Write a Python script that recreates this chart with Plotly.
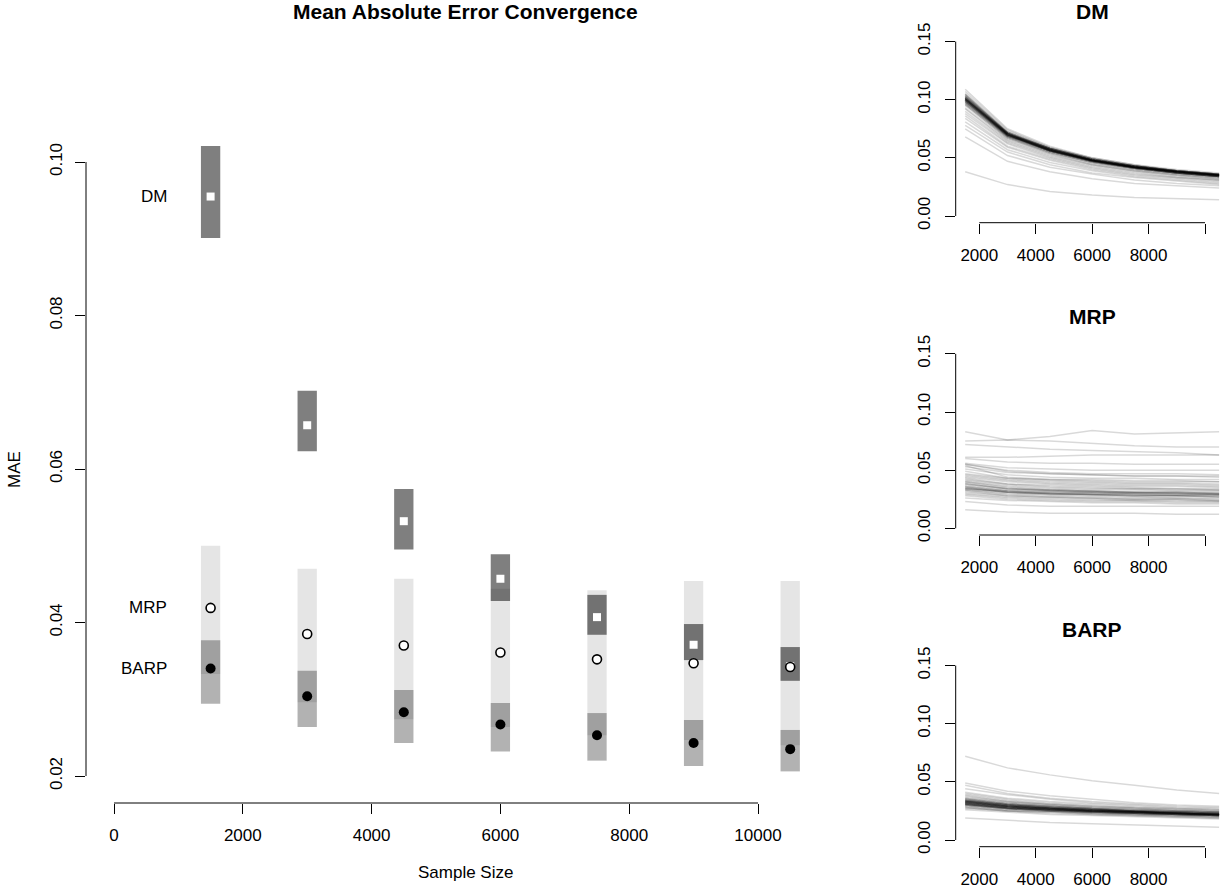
import plotly.graph_objects as go

W, H = 1221, 888
FONT = "Liberation Sans, Arial, Helvetica, sans-serif"

# ---------------- data ----------------
sample_sizes = [1500, 3000, 4500, 6000, 7500, 9000, 10500]

dm_mean = [0.0955, 0.0657, 0.0532, 0.0457, 0.0407, 0.0371, 0.0343]
dm_lo = [0.0901, 0.0623, 0.0495, 0.0428, 0.0384, 0.0351, 0.0324]
dm_hi = [0.1021, 0.0702, 0.0574, 0.0489, 0.0436, 0.0398, 0.0368]

mrp_mean = [0.0419, 0.0385, 0.0370, 0.0361, 0.0352, 0.0347, 0.0342]
mrp_lo = [0.0333, 0.0296, 0.0274, 0.0264, 0.0253, 0.0247, 0.0240]
mrp_hi = [0.0500, 0.0470, 0.0457, 0.0444, 0.0442, 0.0454, 0.0454]

barp_mean = [0.0340, 0.0304, 0.0283, 0.0267, 0.0253, 0.0243, 0.0235]
barp_lo = [0.0294, 0.0264, 0.0243, 0.0232, 0.0220, 0.0213, 0.0206]
barp_hi = [0.0377, 0.0337, 0.0312, 0.0295, 0.0282, 0.0273, 0.0260]

main_xticks = [0, 2000, 4000, 6000, 8000, 10000]
main_xlabels = ["0", "2000", "4000", "6000", "8000", "10000"]
main_yticks = [0.02, 0.04, 0.06, 0.08, 0.10]
main_ylabels = ["0.02", "0.04", "0.06", "0.08", "0.10"]

small_xticks = [2000, 4000, 6000, 8000, 10000]
small_xlabels = ["2000", "4000", "6000", "8000", ""]
small_yticks = [0.00, 0.05, 0.10, 0.15]
small_ylabels = ["0.00", "0.05", "0.10", "0.15"]

dm_lines = [
    [0.109, 0.075, 0.060, 0.050, 0.044, 0.040, 0.037],
    [0.107, 0.074, 0.059, 0.050, 0.044, 0.039, 0.036],
    [0.105, 0.073, 0.059, 0.049, 0.043, 0.039, 0.036],
    [0.103, 0.072, 0.058, 0.049, 0.043, 0.039, 0.036],
    [0.102, 0.071, 0.058, 0.048, 0.043, 0.038, 0.035],
    [0.101, 0.071, 0.057, 0.048, 0.042, 0.038, 0.035],
    [0.100, 0.070, 0.057, 0.048, 0.042, 0.038, 0.035],
    [0.100, 0.070, 0.056, 0.047, 0.042, 0.038, 0.035],
    [0.099, 0.069, 0.056, 0.047, 0.041, 0.037, 0.034],
    [0.098, 0.069, 0.056, 0.047, 0.041, 0.037, 0.034],
    [0.097, 0.068, 0.055, 0.046, 0.041, 0.037, 0.034],
    [0.096, 0.067, 0.054, 0.046, 0.040, 0.036, 0.033],
    [0.095, 0.066, 0.054, 0.045, 0.040, 0.036, 0.033],
    [0.093, 0.065, 0.053, 0.044, 0.039, 0.035, 0.032],
    [0.092, 0.064, 0.052, 0.044, 0.039, 0.035, 0.032],
    [0.090, 0.063, 0.051, 0.043, 0.038, 0.034, 0.031],
    [0.088, 0.062, 0.050, 0.042, 0.037, 0.033, 0.031],
    [0.086, 0.060, 0.049, 0.041, 0.036, 0.033, 0.030],
    [0.084, 0.059, 0.048, 0.040, 0.035, 0.032, 0.029],
    [0.081, 0.057, 0.046, 0.039, 0.034, 0.031, 0.028],
    [0.078, 0.055, 0.044, 0.037, 0.033, 0.030, 0.027],
    [0.075, 0.052, 0.042, 0.036, 0.031, 0.028, 0.026],
    [0.068, 0.047, 0.038, 0.032, 0.028, 0.026, 0.024],
    [0.038, 0.027, 0.021, 0.018, 0.016, 0.015, 0.014],
    [0.101, 0.070, 0.057, 0.048, 0.042, 0.038, 0.035],
    [0.100, 0.070, 0.057, 0.048, 0.042, 0.038, 0.035],
    [0.102, 0.071, 0.057, 0.048, 0.042, 0.038, 0.035],
    [0.099, 0.070, 0.056, 0.047, 0.042, 0.037, 0.035],
    [0.104, 0.072, 0.058, 0.049, 0.043, 0.039, 0.036],
    [0.101, 0.071, 0.057, 0.048, 0.042, 0.038, 0.035],
    [0.100, 0.069, 0.057, 0.048, 0.042, 0.038, 0.035],
    [0.101, 0.070, 0.057, 0.048, 0.042, 0.038, 0.035],
    [0.102, 0.070, 0.057, 0.048, 0.043, 0.038, 0.035],
    [0.099, 0.069, 0.056, 0.048, 0.042, 0.038, 0.035],
    [0.103, 0.071, 0.058, 0.048, 0.043, 0.039, 0.036],
    [0.100, 0.070, 0.056, 0.047, 0.042, 0.038, 0.034],
    [0.098, 0.068, 0.056, 0.047, 0.041, 0.037, 0.034],
    [0.101, 0.071, 0.058, 0.049, 0.043, 0.039, 0.036],
    [0.104, 0.071, 0.058, 0.049, 0.043, 0.039, 0.036],
    [0.097, 0.068, 0.055, 0.047, 0.041, 0.037, 0.034],
    [0.102, 0.071, 0.057, 0.048, 0.042, 0.038, 0.035],
    [0.100, 0.070, 0.057, 0.048, 0.042, 0.038, 0.035],
    [0.099, 0.070, 0.057, 0.048, 0.042, 0.038, 0.035],
    [0.101, 0.070, 0.056, 0.048, 0.042, 0.038, 0.035],
    [0.103, 0.072, 0.058, 0.049, 0.043, 0.039, 0.036],
    [0.096, 0.067, 0.055, 0.046, 0.041, 0.037, 0.034],
    [0.100, 0.069, 0.056, 0.047, 0.042, 0.037, 0.034],
    [0.105, 0.072, 0.058, 0.049, 0.043, 0.039, 0.036],
    [0.098, 0.069, 0.056, 0.047, 0.041, 0.037, 0.034],
    [0.101, 0.071, 0.057, 0.048, 0.042, 0.038, 0.035],
]

mrp_lines = [
    [0.083, 0.076, 0.079, 0.084, 0.081, 0.082, 0.083],
    [0.075, 0.076, 0.075, 0.073, 0.071, 0.070, 0.070],
    [0.072, 0.070, 0.068, 0.067, 0.066, 0.065, 0.063],
    [0.061, 0.061, 0.062, 0.063, 0.063, 0.063, 0.063],
    [0.060, 0.057, 0.056, 0.056, 0.055, 0.055, 0.055],
    [0.056, 0.052, 0.051, 0.050, 0.050, 0.050, 0.050],
    [0.055, 0.050, 0.048, 0.047, 0.047, 0.047, 0.046],
    [0.053, 0.048, 0.047, 0.046, 0.045, 0.045, 0.045],
    [0.051, 0.046, 0.044, 0.043, 0.043, 0.042, 0.042],
    [0.049, 0.043, 0.042, 0.041, 0.040, 0.040, 0.040],
    [0.047, 0.043, 0.041, 0.040, 0.039, 0.039, 0.038],
    [0.045, 0.041, 0.039, 0.038, 0.037, 0.037, 0.036],
    [0.044, 0.040, 0.038, 0.037, 0.036, 0.036, 0.035],
    [0.042, 0.038, 0.037, 0.036, 0.035, 0.034, 0.034],
    [0.041, 0.037, 0.035, 0.034, 0.034, 0.033, 0.033],
    [0.040, 0.036, 0.034, 0.033, 0.033, 0.032, 0.032],
    [0.038, 0.034, 0.033, 0.032, 0.031, 0.031, 0.030],
    [0.037, 0.033, 0.032, 0.031, 0.030, 0.030, 0.029],
    [0.035, 0.031, 0.030, 0.029, 0.029, 0.028, 0.028],
    [0.034, 0.031, 0.030, 0.029, 0.028, 0.028, 0.027],
    [0.034, 0.032, 0.031, 0.031, 0.031, 0.030, 0.030],
    [0.033, 0.029, 0.028, 0.027, 0.026, 0.026, 0.025],
    [0.031, 0.028, 0.027, 0.026, 0.025, 0.025, 0.024],
    [0.030, 0.027, 0.026, 0.025, 0.024, 0.024, 0.023],
    [0.028, 0.025, 0.024, 0.023, 0.023, 0.022, 0.022],
    [0.026, 0.024, 0.023, 0.022, 0.022, 0.021, 0.021],
    [0.023, 0.020, 0.019, 0.019, 0.019, 0.019, 0.019],
    [0.016, 0.014, 0.013, 0.013, 0.013, 0.012, 0.012],
    [0.054, 0.044, 0.042, 0.042, 0.041, 0.041, 0.040],
    [0.036, 0.032, 0.031, 0.030, 0.030, 0.029, 0.029],
    [0.040, 0.035, 0.033, 0.032, 0.031, 0.031, 0.030],
    [0.034, 0.031, 0.030, 0.030, 0.029, 0.029, 0.029],
    [0.033, 0.030, 0.029, 0.029, 0.028, 0.028, 0.028],
    [0.039, 0.034, 0.032, 0.031, 0.030, 0.030, 0.029],
    [0.043, 0.038, 0.036, 0.035, 0.034, 0.034, 0.033],
    [0.036, 0.032, 0.030, 0.029, 0.028, 0.028, 0.027],
    [0.035, 0.031, 0.029, 0.028, 0.027, 0.026, 0.026],
    [0.032, 0.028, 0.027, 0.026, 0.025, 0.025, 0.024],
    [0.046, 0.042, 0.040, 0.039, 0.038, 0.038, 0.037],
    [0.038, 0.034, 0.033, 0.032, 0.031, 0.031, 0.031],
    [0.055, 0.049, 0.047, 0.046, 0.045, 0.045, 0.044],
    [0.029, 0.026, 0.025, 0.024, 0.024, 0.023, 0.023],
]

barp_lines = [
    [0.072, 0.062, 0.056, 0.051, 0.047, 0.043, 0.040],
    [0.049, 0.042, 0.038, 0.035, 0.032, 0.030, 0.029],
    [0.047, 0.040, 0.036, 0.033, 0.031, 0.029, 0.028],
    [0.044, 0.039, 0.035, 0.032, 0.030, 0.028, 0.027],
    [0.041, 0.036, 0.033, 0.031, 0.029, 0.027, 0.026],
    [0.040, 0.035, 0.032, 0.030, 0.028, 0.027, 0.026],
    [0.039, 0.034, 0.031, 0.029, 0.028, 0.026, 0.025],
    [0.038, 0.033, 0.031, 0.029, 0.027, 0.026, 0.025],
    [0.037, 0.033, 0.030, 0.028, 0.027, 0.025, 0.024],
    [0.036, 0.032, 0.030, 0.028, 0.026, 0.025, 0.024],
    [0.035, 0.031, 0.029, 0.027, 0.026, 0.025, 0.024],
    [0.034, 0.031, 0.029, 0.027, 0.025, 0.024, 0.023],
    [0.034, 0.030, 0.028, 0.026, 0.025, 0.024, 0.023],
    [0.033, 0.030, 0.028, 0.026, 0.025, 0.024, 0.023],
    [0.033, 0.029, 0.027, 0.026, 0.024, 0.023, 0.022],
    [0.032, 0.029, 0.027, 0.025, 0.024, 0.023, 0.022],
    [0.032, 0.028, 0.026, 0.025, 0.024, 0.023, 0.022],
    [0.031, 0.028, 0.026, 0.025, 0.023, 0.022, 0.021],
    [0.031, 0.027, 0.026, 0.024, 0.023, 0.022, 0.021],
    [0.030, 0.027, 0.025, 0.024, 0.023, 0.022, 0.021],
    [0.029, 0.026, 0.025, 0.023, 0.022, 0.021, 0.020],
    [0.028, 0.025, 0.024, 0.023, 0.022, 0.021, 0.020],
    [0.027, 0.025, 0.023, 0.022, 0.021, 0.020, 0.019],
    [0.026, 0.024, 0.022, 0.021, 0.020, 0.019, 0.018],
    [0.019, 0.017, 0.015, 0.014, 0.013, 0.012, 0.011],
    [0.032, 0.029, 0.027, 0.025, 0.024, 0.023, 0.022],
    [0.033, 0.029, 0.027, 0.026, 0.025, 0.023, 0.022],
    [0.031, 0.028, 0.026, 0.025, 0.024, 0.023, 0.022],
    [0.034, 0.030, 0.028, 0.026, 0.025, 0.024, 0.023],
    [0.030, 0.027, 0.026, 0.024, 0.023, 0.022, 0.021],
    [0.032, 0.028, 0.026, 0.025, 0.024, 0.023, 0.022],
    [0.033, 0.029, 0.027, 0.025, 0.024, 0.023, 0.022],
    [0.031, 0.028, 0.026, 0.024, 0.023, 0.022, 0.021],
    [0.034, 0.030, 0.028, 0.026, 0.025, 0.024, 0.023],
    [0.032, 0.029, 0.027, 0.025, 0.024, 0.023, 0.022],
    [0.030, 0.027, 0.025, 0.024, 0.023, 0.022, 0.021],
    [0.035, 0.031, 0.028, 0.027, 0.025, 0.024, 0.023],
    [0.033, 0.030, 0.027, 0.026, 0.024, 0.023, 0.022],
    [0.031, 0.027, 0.025, 0.024, 0.023, 0.022, 0.021],
    [0.032, 0.028, 0.027, 0.025, 0.024, 0.023, 0.022],
    [0.029, 0.026, 0.025, 0.023, 0.022, 0.021, 0.020],
    [0.036, 0.032, 0.029, 0.027, 0.026, 0.025, 0.024],
    [0.033, 0.029, 0.027, 0.025, 0.024, 0.023, 0.022],
    [0.030, 0.027, 0.026, 0.024, 0.023, 0.022, 0.021],
    [0.034, 0.030, 0.028, 0.026, 0.025, 0.023, 0.022],
    [0.031, 0.028, 0.026, 0.025, 0.024, 0.022, 0.021],
    [0.032, 0.029, 0.026, 0.025, 0.024, 0.023, 0.022],
    [0.028, 0.025, 0.024, 0.022, 0.021, 0.020, 0.019],
    [0.035, 0.031, 0.029, 0.027, 0.025, 0.024, 0.023],
    [0.033, 0.029, 0.027, 0.026, 0.024, 0.023, 0.022],
]

# ---------------- geometry (pixels) ----------------
def px_x(p):
    return p / W

def px_y(p):
    return 1 - p / H

# main panel
M_L, M_R, M_T, M_B = 86, 844, 137, 803
mx_per = (758 - 114) / 10000.0       # px per unit
my_per = (776 - 162) / 0.08          # px per unit
m_xr = [(M_L - 114) / mx_per, (M_R - 114) / mx_per]
m_yr = [0.02 - (M_B - 776) / my_per, 0.10 + (162 - M_T) / my_per]

# small panels
S_L, S_R = 955.7, 1221
sx_per = (1205 - 979.3) / 8000.0
s_xr = [2000 + (S_L - 979.3) / sx_per, 10000 + (S_R - 1205) / sx_per]
sy_per = 1163.0
panel_zero = [216.0, 528.3, 840.0]   # pixel of y=0 for each small panel
panel_title_px = [11.0, 317.0, 629.5]
panel_titles = ["DM", "MRP", "BARP"]
panel_lines = [dm_lines, mrp_lines, barp_lines]

fig = go.Figure()

# ---------------- main panel ----------------
bar_sets = [
    (mrp_lo, mrp_hi, "rgba(0,0,0,0.10)"),
    (barp_lo, barp_hi, "rgba(0,0,0,0.30)"),
    (dm_lo, dm_hi, "rgba(0,0,0,0.50)"),
]
for lo, hi, col in bar_sets:
    fig.add_trace(go.Bar(
        x=sample_sizes, base=lo, y=[h - l for l, h in zip(lo, hi)],
        width=300, marker=dict(color=col, line=dict(width=0)),
        xaxis="x", yaxis="y", hoverinfo="skip",
    ))

fig.add_trace(go.Scatter(
    x=sample_sizes, y=dm_mean, mode="markers",
    marker=dict(symbol="square", size=8, color="white", line=dict(width=0)),
    xaxis="x", yaxis="y", hoverinfo="skip", cliponaxis=False,
))
fig.add_trace(go.Scatter(
    x=sample_sizes, y=mrp_mean, mode="markers",
    marker=dict(symbol="circle", size=9, color="white", line=dict(width=1.6, color="black")),
    xaxis="x", yaxis="y", hoverinfo="skip", cliponaxis=False,
))
fig.add_trace(go.Scatter(
    x=sample_sizes, y=barp_mean, mode="markers",
    marker=dict(symbol="circle", size=10, color="black", line=dict(width=0)),
    xaxis="x", yaxis="y", hoverinfo="skip", cliponaxis=False,
))

axis_common = dict(
    showgrid=False, zeroline=False, showline=False, automargin=False,
    ticks="outside", ticklen=10, tickwidth=1, tickcolor="black",
    tickfont=dict(family=FONT, size=17, color="black"),
    fixedrange=True,
)

layout = dict(
    width=W, height=H, autosize=False,
    margin=dict(l=0, r=0, t=0, b=0, autoexpand=False),
    paper_bgcolor="white", plot_bgcolor="white",
    showlegend=False, barmode="overlay", hovermode=False,
    xaxis=dict(domain=[px_x(M_L), px_x(M_R)], range=m_xr, anchor="y",
               tickmode="array", tickvals=main_xticks, ticktext=main_xlabels,
               ticklabelstandoff=7, **axis_common),
    yaxis=dict(domain=[px_y(M_B), px_y(M_T)], range=m_yr, anchor="x",
               tickmode="array", tickvals=main_yticks, ticktext=main_ylabels,
               tickangle=-90, ticklabelstandoff=6, **axis_common),
)

shapes = [
    dict(type="line", xref="x", yref="y domain", x0=main_xticks[0], x1=main_xticks[-1],
         y0=0, y1=0, line=dict(color="black", width=1)),
    dict(type="line", xref="x domain", yref="y", x0=0, x1=0,
         y0=main_yticks[0], y1=main_yticks[-1], line=dict(color="black", width=1)),
]

annotations = [
    dict(text="<b>Mean Absolute Error Convergence</b>", xref="paper", yref="paper",
         x=px_x((M_L + M_R) / 2), y=px_y(12), xanchor="center", yanchor="middle",
         showarrow=False, font=dict(family=FONT, size=21, color="black")),
    dict(text="MAE", xref="paper", yref="paper", x=px_x(14), y=px_y((M_T + M_B) / 2),
         textangle=-90, xanchor="center", yanchor="middle", showarrow=False,
         font=dict(family=FONT, size=17, color="black")),
    dict(text="Sample Size", xref="paper", yref="paper", x=px_x((M_L + M_R) / 2), y=px_y(872),
         xanchor="center", yanchor="middle", showarrow=False,
         font=dict(family=FONT, size=17, color="black")),
]

for name, means in (("DM", dm_mean), ("MRP", mrp_mean), ("BARP", barp_mean)):
    annotations.append(dict(
        text=name, xref="x", yref="y", x=sample_sizes[0], y=means[0],
        xanchor="right", yanchor="middle", xshift=-42, showarrow=False,
        font=dict(family=FONT, size=17, color="black"),
    ))

# ---------------- small panels ----------------
for i, (title, lines, zero, tpx) in enumerate(zip(panel_titles, panel_lines, panel_zero, panel_title_px)):
    xa = "x%d" % (i + 2)
    ya = "y%d" % (i + 2)
    top_px = zero - 0.15 * sy_per - 6.7
    bot_px = zero + 6.7
    y_lo = -(bot_px - zero) / sy_per
    y_hi = (zero - top_px) / sy_per
    for vals in lines:
        fig.add_trace(go.Scatter(
            x=sample_sizes, y=vals, mode="lines",
            line=dict(color="rgba(0,0,0,0.15)", width=1.5),
            xaxis=xa, yaxis=ya, hoverinfo="skip",
        ))
    layout["xaxis%d" % (i + 2)] = dict(
        domain=[px_x(S_L), px_x(S_R)], range=s_xr, anchor=ya,
        tickmode="array", tickvals=small_xticks, ticktext=small_xlabels,
        ticklabelstandoff=7, **axis_common)
    layout["yaxis%d" % (i + 2)] = dict(
        domain=[px_y(bot_px), px_y(top_px)], range=[y_lo, y_hi], anchor=xa,
        tickmode="array", tickvals=small_yticks, ticktext=small_ylabels,
        tickangle=-90, ticklabelstandoff=8, **axis_common)
    shapes.append(dict(type="line", xref=xa, yref=ya + " domain",
                       x0=small_xticks[0], x1=small_xticks[-1], y0=0, y1=0,
                       line=dict(color="black", width=1)))
    shapes.append(dict(type="line", xref=xa + " domain", yref=ya, x0=0, x1=0,
                       y0=small_yticks[0], y1=small_yticks[-1],
                       line=dict(color="black", width=1)))
    annotations.append(dict(
        text="<b>%s</b>" % title, xref="paper", yref="paper",
        x=px_x((S_L + 1229) / 2), y=px_y(tpx), xanchor="center", yanchor="middle",
        showarrow=False, font=dict(family=FONT, size=21, color="black")))

layout["shapes"] = shapes
layout["annotations"] = annotations
fig.update_layout(**layout)

fig.write_html("out.html")
